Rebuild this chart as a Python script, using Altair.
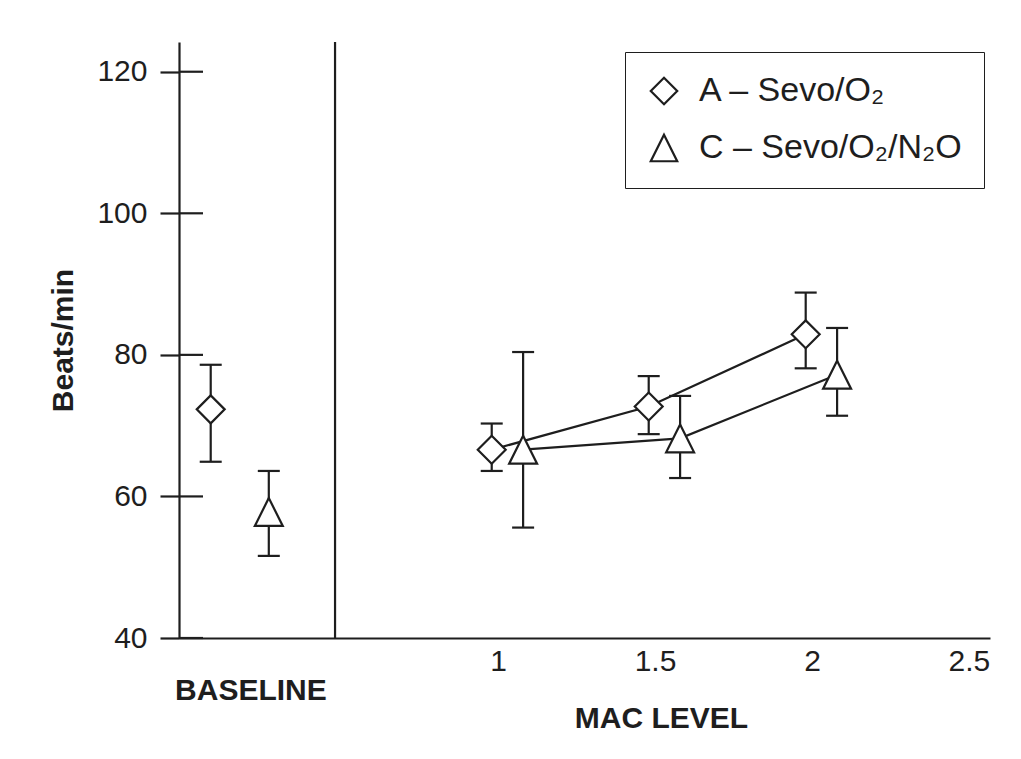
import altair as alt
import pandas as pd

groups = ["A – Sevo/O₂", "C – Sevo/O₂/N₂O"]

# Baseline (positions on the shared horizontal scale, left of divider)
base_x = [0.085, 0.27]
base_mean = [72.3, 57.8]
base_lo = [64.9, 51.6]
base_hi = [78.6, 63.6]

# MAC level points
a_x = [0.98, 1.48, 1.98]
a_mean = [66.6, 72.7, 82.9]
a_lo = [63.6, 68.8, 78.1]
a_hi = [70.3, 77.0, 88.8]

c_x = [1.08, 1.58, 2.08]
c_mean = [66.6, 68.2, 77.2]
c_lo = [55.6, 62.6, 71.4]
c_hi = [80.4, 74.2, 83.8]

y_ticks = [40, 60, 80, 100, 120]
x_ticks = [1, 1.5, 2, 2.5]
divider_x = 0.481
baseline_label_x = 0.213

rows = []
for i, g in enumerate(groups):
    rows.append(dict(group=g, phase="baseline", x=base_x[i], mean=base_mean[i], lo=base_lo[i], hi=base_hi[i]))
for xs, ms, los, his, g in [(a_x, a_mean, a_lo, a_hi, groups[0]), (c_x, c_mean, c_lo, c_hi, groups[1])]:
    for xv, m, lo, hi in zip(xs, ms, los, his):
        rows.append(dict(group=g, phase="mac", x=xv, mean=m, lo=lo, hi=hi))
df = pd.DataFrame(rows)
mac = df[df.phase == "mac"]

W, H = 811, 596
INK = "#1e1e1e"
FONT = "Liberation Sans"
SW = 2.2

xscale = alt.Scale(domain=[-0.016, 2.567], nice=False, zero=False)
yscale = alt.Scale(domain=[40, 124.2], nice=False, zero=False)

xaxis = alt.Axis(values=x_ticks, format="~g", tickSize=0, labelPadding=8, labelFontSize=30,
                 labelColor=INK, domainColor=INK, domainWidth=SW, grid=False,
                 title="MAC LEVEL", titleFontSize=30, titleFontWeight="bold", titleColor=INK,
                 titleX=482, titleY=80, titleBaseline="middle", titleAlign="center", labelFlush=False)
yaxis = alt.Axis(values=y_ticks, tickSize=19, tickWidth=SW, tickColor=INK, labelPadding=13,
                 labelFontSize=30, labelColor=INK, domainColor=INK, domainWidth=SW, grid=False,
                 title="Beats/min", titleFontSize=30, titleFontWeight="bold", titleColor=INK,
                 titleX=-116, titleY=H / 2, titleAngle=-90, titleBaseline="middle", titleAlign="center")

base = alt.Chart(df)

divider = alt.Chart(pd.DataFrame({"x": [divider_x]})).mark_rule(color=INK, strokeWidth=SW).encode(
    x=alt.X("x:Q", scale=xscale, axis=xaxis),
    y=alt.value(0), y2=alt.value(H))

inner_ticks = alt.Chart(pd.DataFrame({"v": y_ticks})).mark_rule(color=INK, strokeWidth=SW).encode(
    y=alt.Y("v:Q", scale=yscale, axis=yaxis),
    x=alt.value(0), x2=alt.value(24))

err = base.mark_rule(color=INK, strokeWidth=SW).encode(
    x=alt.X("x:Q", scale=xscale), y=alt.Y("lo:Q", scale=yscale), y2="hi:Q")

cap_lo = base.mark_rule(color=INK, strokeWidth=SW, xOffset=-11, x2Offset=11).encode(
    x=alt.X("x:Q", scale=xscale), x2="x:Q", y=alt.Y("lo:Q", scale=yscale))
cap_hi = base.mark_rule(color=INK, strokeWidth=SW, xOffset=-11, x2Offset=11).encode(
    x=alt.X("x:Q", scale=xscale), x2="x:Q", y=alt.Y("hi:Q", scale=yscale))

lines = alt.Chart(mac).mark_line(color=INK, strokeWidth=SW).encode(
    x=alt.X("x:Q", scale=xscale), y=alt.Y("mean:Q", scale=yscale), detail="group:N")

legend = alt.Legend(title=None, orient="none", legendX=446, legendY=10,
                    padding=22, strokeColor=INK, labelFontSize=34,
                    labelColor=INK, labelOffset=18, rowPadding=21,
                    labelLimit=500, symbolSize=700, symbolStrokeWidth=SW,
                    symbolFillColor="white", labelFont=FONT)

tri = "M0,-1L1,1L-1,1Z"
points = base.mark_point(filled=False, fill="white", fillOpacity=1, strokeWidth=SW,
                         opacity=1, size=780).encode(
    x=alt.X("x:Q", scale=xscale), y=alt.Y("mean:Q", scale=yscale),
    color=alt.Color("group:N", scale=alt.Scale(domain=groups, range=[INK, INK]), legend=legend),
    shape=alt.Shape("group:N", scale=alt.Scale(domain=groups, range=["diamond", tri]), legend=legend))

baseline_text = alt.Chart(pd.DataFrame({"x": [baseline_label_x], "t": ["BASELINE"]})).mark_text(
    fontSize=30, fontWeight="bold", color=INK, baseline="middle", align="center").encode(
    x=alt.X("x:Q", scale=xscale), y=alt.value(649), text="t:N")

chart = alt.layer(divider, inner_ticks, err, cap_lo, cap_hi, lines, points, baseline_text).properties(
    width=W, height=H,
    autosize=alt.AutoSizeParams(type="none"),
    padding={"left": 171, "top": 34, "right": 20, "bottom": 110},
).configure(font=FONT).configure_view(stroke="transparent", strokeWidth=0)

chart.save("out.html", embed_options={"renderer": "svg", "actions": False})
